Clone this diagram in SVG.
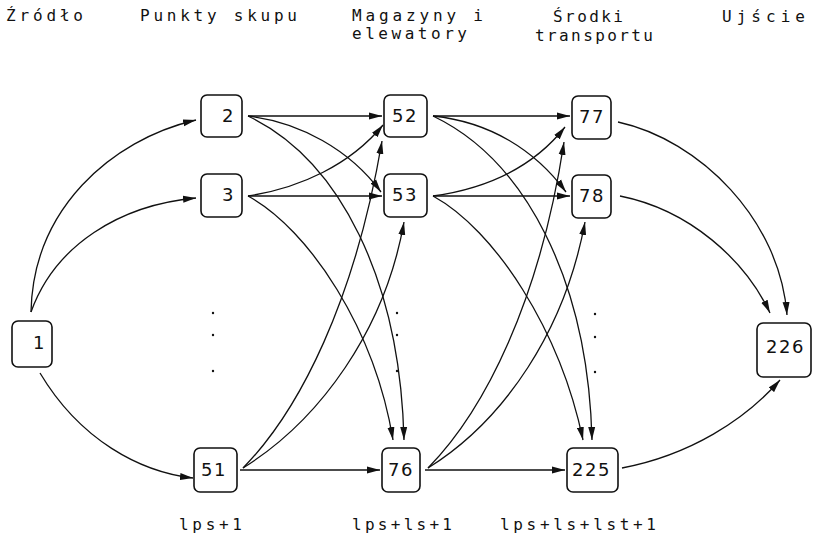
<svg xmlns="http://www.w3.org/2000/svg" width="814" height="538" viewBox="0 0 814 538">
<style>
.hdr{font-family:"DejaVu Sans Mono","Liberation Mono",monospace;font-size:16px;fill:#111}
.lbl{font-family:"DejaVu Sans Mono","Liberation Mono",monospace;font-size:16px;fill:#111}
.box{fill:#fff;stroke:#111;stroke-width:1.6}
.num{font-family:"DejaVu Sans","Liberation Sans",sans-serif;font-size:18px;letter-spacing:1.5px;fill:#111}
.edge{fill:none;stroke:#111;stroke-width:1.3;marker-end:url(#arr)}
.dot{fill:#111}
</style>
<defs>
<marker id="arr" viewBox="0 0 13 8" refX="13" refY="4" markerWidth="13" markerHeight="8" markerUnits="userSpaceOnUse" orient="auto">
<path d="M0,0.5 L13,4 L0,7.5 z" fill="#111"/>
</marker>
</defs>
<g id="headers">
<text class="hdr" x="6" y="21" textLength="77" lengthAdjust="spacing">Źródło</text>
<text class="hdr" x="140" y="21" textLength="157" lengthAdjust="spacing">Punkty skupu</text>
<text class="hdr" x="352" y="21" textLength="131" lengthAdjust="spacing">Magazyny i</text>
<text class="hdr" x="352" y="39" textLength="115" lengthAdjust="spacing">elewatory</text>
<text class="hdr" x="553" y="22" textLength="70" lengthAdjust="spacing">Środki</text>
<text class="hdr" x="535" y="41" textLength="118" lengthAdjust="spacing">transportu</text>
<text class="hdr" x="722" y="22" textLength="83" lengthAdjust="spacing">Ujście</text>
</g>
<g id="connectors">
<path class="edge" d="M31,312 C33,210 110,140 196,120"/>
<path class="edge" d="M31,312 C55,245 120,205 196,198"/>
<path class="edge" d="M40,373 C80,440 140,472 193,478"/>
<path class="edge" d="M248,116 L382,116"/>
<path class="edge" d="M248,116 C300,122 350,150 381,192"/>
<path class="edge" d="M248,116 C340,160 400,280 404,440"/>
<path class="edge" d="M248,196 C300,188 350,165 383,125"/>
<path class="edge" d="M248,196 L382,196"/>
<path class="edge" d="M248,196 C310,230 375,330 393,440"/>
<path class="edge" d="M240,470 L380,470"/>
<path class="edge" d="M243,468 C300,410 355,300 382,141"/>
<path class="edge" d="M243,468 C320,420 385,330 404,222"/>
<path class="edge" d="M433,116 L570,116"/>
<path class="edge" d="M433,116 C490,122 535,150 566,192"/>
<path class="edge" d="M433,116 C525,160 588,280 592,440"/>
<path class="edge" d="M433,196 C490,188 535,165 565,127"/>
<path class="edge" d="M433,196 L570,196"/>
<path class="edge" d="M433,196 C495,230 560,330 583,440"/>
<path class="edge" d="M425,470 L565,470"/>
<path class="edge" d="M428,468 C485,410 540,300 564,142"/>
<path class="edge" d="M428,468 C505,420 565,330 585,222"/>
<path class="edge" d="M618,122 C700,140 780,220 787,315"/>
<path class="edge" d="M620,196 C690,210 745,260 770,313"/>
<path class="edge" d="M622,468 C690,455 745,420 780,380"/>
</g>
<g id="dots">
<circle class="dot" cx="213" cy="313" r="1.2"/><circle class="dot" cx="213" cy="335" r="1.2"/><circle class="dot" cx="213" cy="371" r="1.2"/>
<circle class="dot" cx="397" cy="313" r="1.2"/><circle class="dot" cx="397" cy="335" r="1.2"/><circle class="dot" cx="397" cy="371" r="1.2"/>
<circle class="dot" cx="595" cy="314" r="1.2"/><circle class="dot" cx="595" cy="337" r="1.2"/><circle class="dot" cx="595" cy="372" r="1.2"/>
</g>
<g id="n1"><rect class="box" x="12" y="321" width="40" height="46" rx="6"/><text class="num" x="33" y="349">1</text></g>
<g id="n2"><rect class="box" x="201" y="95" width="41" height="42" rx="6"/><text class="num" x="222" y="122">2</text></g>
<g id="n3"><rect class="box" x="201" y="174" width="41" height="43" rx="6"/><text class="num" x="222" y="201">3</text></g>
<g id="n51"><rect class="box" x="194" y="448" width="43" height="44" rx="6"/><text class="num" x="201" y="476">51</text></g>
<g id="n52"><rect class="box" x="384" y="95" width="43" height="42" rx="6"/><text class="num" x="392" y="122">52</text></g>
<g id="n53"><rect class="box" x="384" y="174" width="43" height="43" rx="6"/><text class="num" x="392" y="201">53</text></g>
<g id="n76"><rect class="box" x="382" y="448" width="38" height="44" rx="6"/><text class="num" x="388" y="476">76</text></g>
<g id="n77"><rect class="box" x="572" y="96" width="39" height="43" rx="6"/><text class="num" x="579" y="123">77</text></g>
<g id="n78"><rect class="box" x="572" y="175" width="39" height="43" rx="6"/><text class="num" x="579" y="202">78</text></g>
<g id="n225"><rect class="box" x="567" y="448" width="51" height="44" rx="6"/><text class="num" x="572" y="476">225</text></g>
<g id="n226"><rect class="box" x="757" y="323" width="54" height="54" rx="6"/><text class="num" x="766" y="353">226</text></g>
<g id="labels">
<text class="lbl" x="179" y="530" textLength="63" lengthAdjust="spacing">lps+1</text>
<text class="lbl" x="352" y="530" textLength="100" lengthAdjust="spacing">lps+ls+1</text>
<text class="lbl" x="500" y="530" textLength="156" lengthAdjust="spacing">lps+ls+lst+1</text>
</g>
</svg>
